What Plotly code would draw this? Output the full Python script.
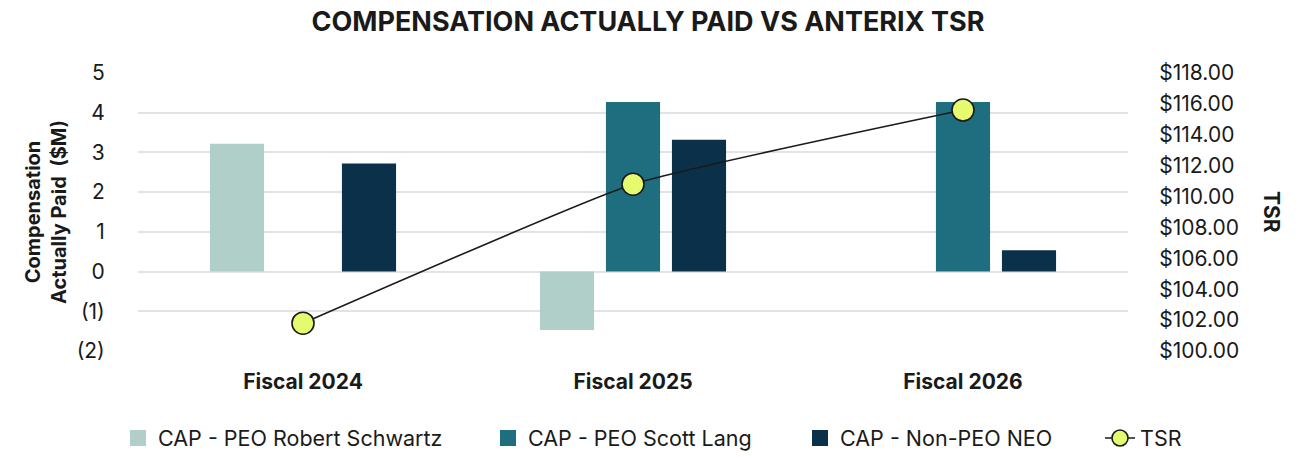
import plotly.graph_objects as go

categories = ["Fiscal 2024", "Fiscal 2025", "Fiscal 2026"]
cap_schwartz = [3.22, -1.47, None]
cap_lang = [None, 4.27, 4.27]
cap_non_peo = [2.72, 3.32, 0.54]
tsr = [101.8, 110.8, 115.6]

left_tickvals = [-2, -1, 0, 1, 2, 3, 4, 5]
left_ticktext = ["(2)", "(1)", "0", "1", "2", "3", "4", "5"]
right_tickvals = [100, 102, 104, 106, 108, 110, 112, 114, 116, 118]
right_ticktext = ["$%.2f" % v for v in right_tickvals]

c_schwartz = "#B0CFC8"
c_lang = "#1E6E80"
c_non = "#0B3049"
c_tsr = "#E6FA70"
FONT = "Inter, Roboto, Arial, sans-serif"
TXT = "#1a1a1a"
FS = 21

fig = go.Figure()
for name, vals, col, lg in [
    ("CAP - PEO Robert Schwartz", cap_schwartz, c_schwartz, "legend"),
    ("CAP - PEO Scott Lang", cap_lang, c_lang, "legend2"),
    ("CAP - Non-PEO NEO", cap_non_peo, c_non, "legend3"),
]:
    fig.add_trace(go.Bar(x=categories, y=vals, name=name, marker_color=col,
                         marker_line_width=0, showlegend=False, yaxis="y"))
    fig.add_trace(go.Scatter(x=[None], y=[None], mode="markers", name=name,
                             marker=dict(symbol="square", size=21, color=col),
                             legend=lg, showlegend=True))

fig.add_trace(go.Scatter(x=categories, y=tsr, name="TSR", yaxis="y2",
                         mode="lines+markers",
                         line=dict(color="#1a1a1a", width=1.6, shape="spline", smoothing=0.4),
                         marker=dict(size=22, color=c_tsr, line=dict(color="#1a1a1a", width=1.6)),
                         legend="legend4"))

leg_common = dict(orientation="h", xref="container", yref="container",
                  yanchor="middle", y=22/460, xanchor="left",
                  font=dict(family=FONT, size=21.5, color=TXT),
                  bgcolor="rgba(0,0,0,0)")
fig.update_layout(
    width=1296, height=460,
    margin=dict(l=138, r=168, t=73, b=109),
    paper_bgcolor="white", plot_bgcolor="white",
    title=dict(text="<b>COMPENSATION ACTUALLY PAID VS ANTERIX TSR</b>",
               x=0.5, xanchor="center", y=1 - 22/460, yanchor="middle",
               font=dict(family=FONT, size=27, color=TXT)),
    barmode="group", bargap=0.4, bargroupgap=0.18,
    xaxis=dict(showgrid=False, showline=False, zeroline=False,
               ticks="outside", ticklen=12, tickcolor="rgba(0,0,0,0)",
               tickfont=dict(family=FONT, size=FS, color=TXT),
               ticktext=["<b>%s</b>" % c for c in categories], tickvals=categories),
    yaxis=dict(range=[-2, 5], tickvals=left_tickvals, ticktext=left_ticktext,
               showgrid=True, gridcolor="#E3E3E3", gridwidth=2,
               zeroline=False, showline=False,
               ticks="outside", ticklen=28, tickcolor="rgba(0,0,0,0)",
               tickfont=dict(family=FONT, size=FS, color=TXT),
               title=dict(text="<b>Compensation<br>Actually Paid  ($M)</b>",
                          font=dict(family=FONT, size=20, color=TXT), standoff=4)),
    yaxis2=dict(range=[100, 118], tickvals=right_tickvals, ticktext=right_ticktext,
                overlaying="y", side="right", showgrid=False, zeroline=False,
                showline=False, ticks="outside", ticklen=26,
                tickcolor="rgba(0,0,0,0)",
                tickfont=dict(family=FONT, size=FS, color=TXT)),
    legend=dict(x=118/1296, **leg_common),
    legend2=dict(x=488/1296, **leg_common),
    legend3=dict(x=800/1296, **leg_common),
    legend4=dict(x=1100/1296, **leg_common),
)
fig.update_layout(annotations=[dict(text="<b>TSR</b>", textangle=90, xref="paper", yref="paper",
                                    x=(1272 - 138) / (1296 - 138 - 168), xanchor="center",
                                    y=0.5, yanchor="middle", showarrow=False,
                                    font=dict(family=FONT, size=FS, color=TXT))])

fig.write_html("out.html")
